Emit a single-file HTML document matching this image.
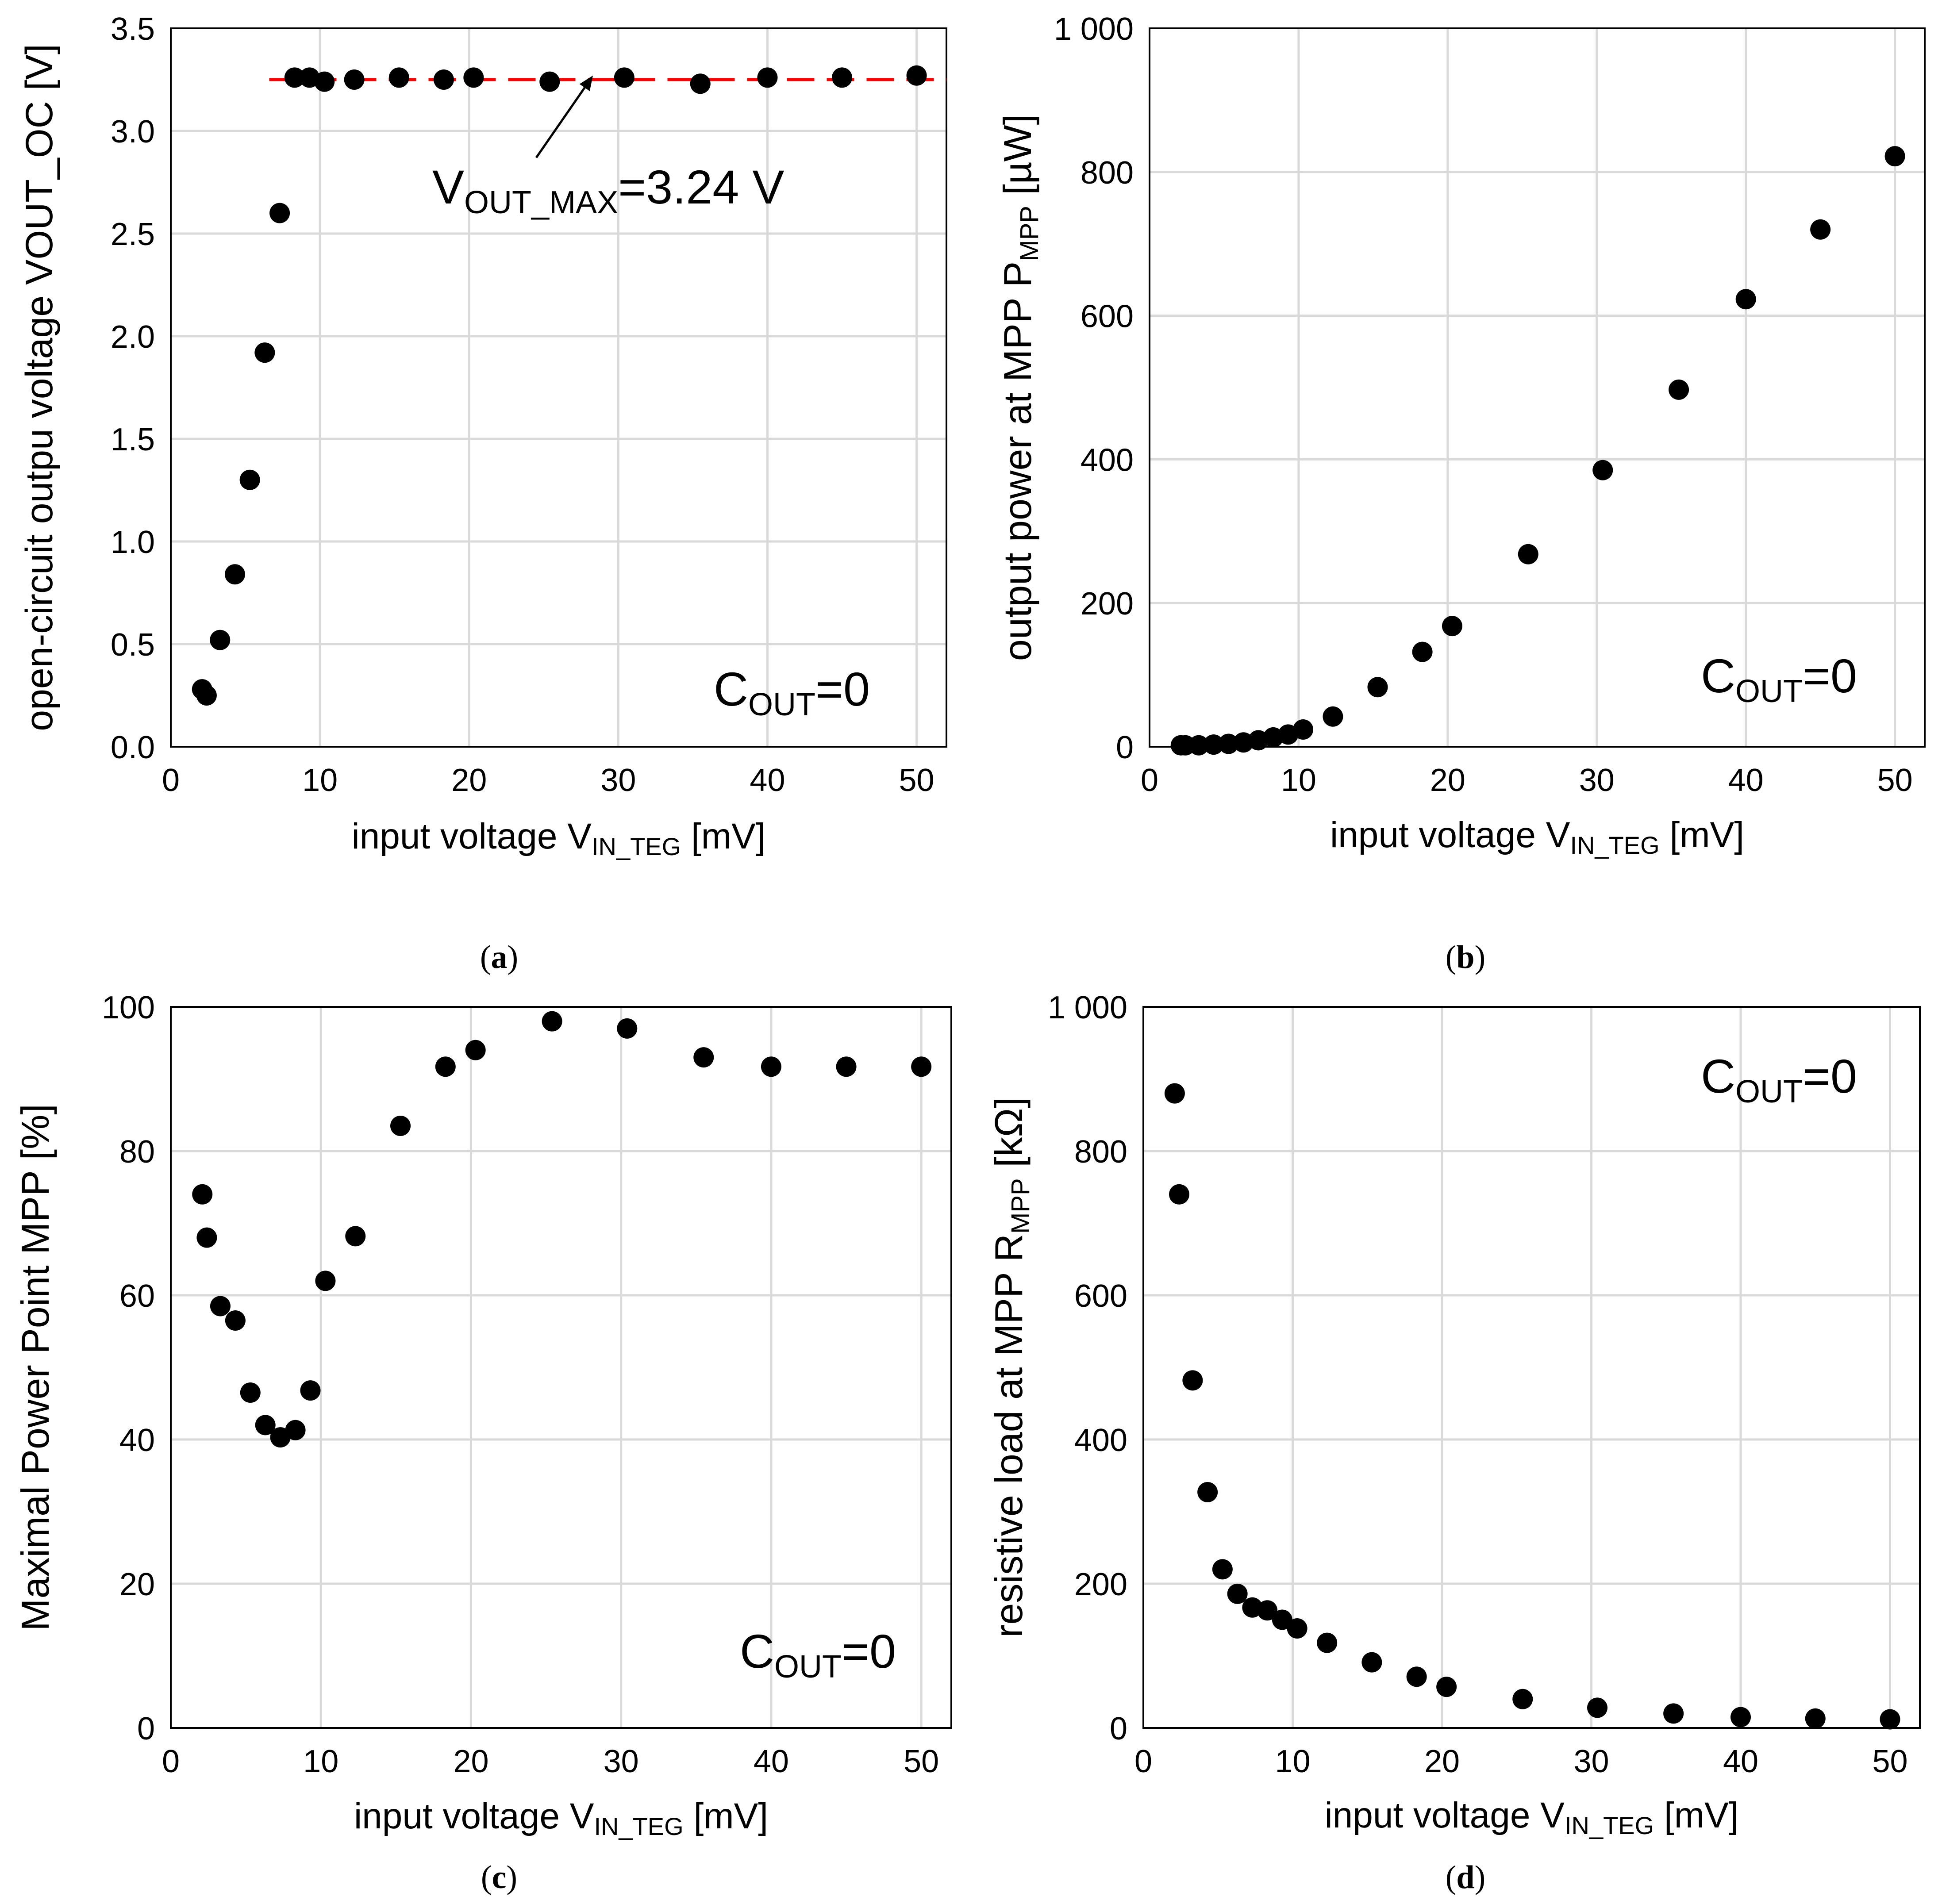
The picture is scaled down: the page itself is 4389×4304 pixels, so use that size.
<!DOCTYPE html>
<html><head><meta charset="utf-8"><style>
html,body{margin:0;padding:0;background:#fff;}
svg{display:block;}
text{font-family:"Liberation Sans",sans-serif;fill:#000;}
.cap{font-family:"Liberation Serif",serif;}
</style></head><body>
<svg id="fig" width="4389" height="4304" viewBox="0 0 4389 4304" xmlns="http://www.w3.org/2000/svg"></svg>
<script>
const xVals=[2.1,2.4,3.3,4.3,5.3,6.3,7.3,8.3,9.3,10.3,12.3,15.3,18.3,20.3,25.4,30.4,35.5,40,45,50];
const voutVals=[0.28,0.25,0.52,0.84,1.30,1.92,2.60,3.26,3.26,3.24,3.25,3.26,3.25,3.26,3.24,3.26,3.23,3.26,3.26,3.27];
const pmppVals=[2,2,2,3,4,6,9,13,17,24,42,83,132,168,268,385,497,623,720,822];
const mppVals=[74,68,58.5,56.5,46.5,42,40.3,41.3,46.8,62,68.2,83.5,91.7,94,98,97,93,91.7,91.7,91.7];
const rmppVals=[880,740,482,327,220,186,167,163,150,138,118,91,71,57,40,28,20,15,13,12];
const xTicks=[0,10,20,30,40,50];
const yTicksA=[0,0.5,1.0,1.5,2.0,2.5,3.0,3.5];
const yTicksP=[0,200,400,600,800,1000];
const yTicksC=[0,20,40,60,80,100];
const voutMax=3.25;

const NS="http://www.w3.org/2000/svg";
const svg=document.getElementById('fig');
function mk(tag,attrs,parent){const e=document.createElementNS(NS,tag);for(const k in attrs)e.setAttribute(k,attrs[k]);(parent||svg).appendChild(e);return e;}

function panel(p){
  const g=mk('g',{});
  
  
  const sx=v=>p.L+(v-0)/(52-0)*(p.R-p.L);
  const sy=v=>p.B-(v-p.ymin)/(p.ymax-p.ymin)*(p.B-p.T);
  p.sx=sx;p.sy=sy;
  xTicks.forEach(t=>{
    if(t>0){const l=mk('line',{x1:sx(t),x2:sx(t),y1:p.T,y2:p.B,stroke:'#d9d9d9','stroke-width':5},g);
    }
    const tx=mk('text',{x:sx(t),y:p.B+100,'font-size':72,'text-anchor':'middle'},g);tx.textContent=t;
    
  });
  p.yTicks.forEach(t=>{
    if(t>p.ymin&&t<p.ymax){const l=mk('line',{x1:p.L,x2:p.R,y1:sy(t),y2:sy(t),stroke:'#d9d9d9','stroke-width':5},g);
    }
    const tx=mk('text',{x:p.L-36,y:sy(t)+26,'font-size':72,'text-anchor':'end'},g);tx.textContent=p.fmt(t);
    
  });
  const fr=mk('rect',{x:p.L,y:p.T,width:p.R-p.L,height:p.B-p.T,fill:'none',stroke:'#000','stroke-width':4},g);
  
  if(p.extra)p.extra(g,p);
  p.data.forEach((v,i)=>{
    const c=mk('circle',{cx:sx(xVals[i]),cy:sy(v),r:23,fill:'#000'},g);
    
  });
  const xt=mk('text',{x:(p.L+p.R)/2,y:p.xtY,'font-size':82,'text-anchor':'middle'},g);
  xt.innerHTML='input voltage V<tspan font-size="56" dy="15">IN_TEG</tspan><tspan dy="-15"> [mV]</tspan>';
  
  const cy=(p.T+p.B)/2;
  const yt=mk('text',{x:p.ytX,y:cy,'font-size':p.ytFs||88,'text-anchor':'middle',transform:`rotate(-90 ${p.ytX} ${cy})`},g);
  yt.innerHTML=p.ytitle;
  
  const co=mk('text',{x:p.coX,y:p.coY,'font-size':108},g);
  co.innerHTML='C<tspan font-size="72" dy="22">OUT</tspan><tspan dy="-22">=0</tspan>';
  
  const cap=mk('text',{x:p.capX,y:p.capY,'font-size':74,'text-anchor':'middle','class':'cap'},g);
  cap.innerHTML='(<tspan font-weight="bold">'+p.letter+'</tspan>)';
  
}
const fmtK=t=>t===1000?'1 000':String(t);

panel({name:'panel-a',L:386,R:2139,T:64,B:1688,ymin:0,ymax:3.5,yTicks:yTicksA,fmt:t=>t.toFixed(1),data:voutVals,
  xtY:1918,ytX:118,ytFs:86,ytitle:'open-circuit outpu voltage VOUT_OC [V]',coX:1613,coY:1595,capX:1128,capY:2188,letter:'a',
  extra:(g,p)=>{
    const l=mk('line',{x1:p.sx(6.6),x2:p.R,y1:p.sy(voutMax),y2:p.sy(voutMax),stroke:'#ff0000','stroke-width':7,'stroke-dasharray':'62 28'},g);
    
    const x1=p.sx(24.5),y1=p.sy(2.87),x2=p.sx(28.3),y2=p.sy(3.27);
    const a=mk('line',{x1:x1,y1:y1,x2:x2-8,y2:y2+12,stroke:'#000','stroke-width':5},g);
    
    const ang=Math.atan2(y2-y1,x2-x1);const s=36;
    const h=mk('polygon',{points:`${x2},${y2} ${x2-s*Math.cos(ang-0.4)},${y2-s*Math.sin(ang-0.4)} ${x2-s*Math.cos(ang+0.4)},${y2-s*Math.sin(ang+0.4)}`,fill:'#000'},g);
    
    const t=mk('text',{x:977,y:460,'font-size':108},g);
    t.innerHTML='V<tspan font-size="72" dy="22">OUT_MAX</tspan><tspan dy="-22">=3.24 V</tspan>';
    
  }});
panel({name:'panel-b',L:2598,R:4350,T:64,B:1688,ymin:0,ymax:1000,yTicks:yTicksP,fmt:fmtK,data:pmppVals,
  xtY:1915,ytX:2330,ytitle:'output power at MPP P<tspan font-size="58" dy="16">MPP</tspan><tspan dy="-16"> [µW]</tspan>',coX:3844,coY:1565,capX:3312,capY:2188,letter:'b'});
panel({name:'panel-c',L:386,R:2150,T:2276,B:3906,ymin:0,ymax:100,yTicks:yTicksC,fmt:String,data:mppVals,
  xtY:4133,ytX:110,ytitle:'Maximal Power Point MPP [%]',coX:1672,coY:3770,capX:1128,capY:4268,letter:'c'});
panel({name:'panel-d',L:2584,R:4339,T:2276,B:3906,ymin:0,ymax:1000,yTicks:yTicksP,fmt:fmtK,data:rmppVals,
  xtY:4131,ytX:2310,ytitle:'resistive load at MPP R<tspan font-size="58" dy="16">MPP</tspan><tspan dy="-16"> [kΩ]</tspan>',coX:3844,coY:2470,capX:3312,capY:4268,letter:'d'});
</script>
</body></html>
